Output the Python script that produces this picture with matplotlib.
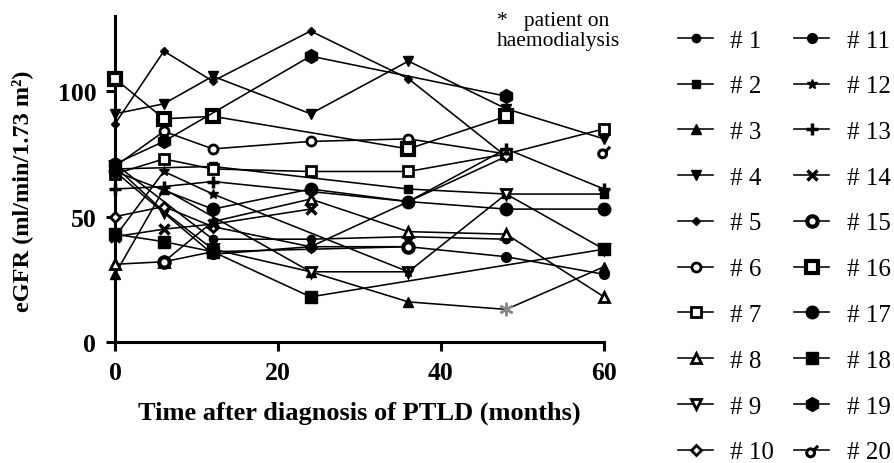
import numpy as np
import matplotlib
matplotlib.use("Agg")
import matplotlib.pyplot as plt
from matplotlib.path import Path

plt.rcParams['font.family'] = ['Liberation Serif', 'DejaVu Serif']

nan = np.nan
months = [0, 6, 12, 24, 36, 48, 60]

# eGFR per patient at each follow-up time (nan = no value)
p1 = [71, nan, 41, 41, 42, 41, nan]
p2 = [69, nan, 70, nan, 61, 59, 59]
p3 = [27, 61, nan, 28, 16, 13, 30]
p4 = [91, 95, 106, 91, 112, 93, 81]
p5 = [87, 116, 104, 124, 105, 74, nan]
p6 = [70, 84, 77, 80, 81, 75, nan]
p7 = [67, 73, 69, 68, 68, 75, 85]
p8 = [31, 32, 48, 57, 44, 43, 18]
p9 = [70, 52, 37, 28, 28, 59, 37]
p10 = [50, 54, 46, 38, nan, 74, nan]
p11 = [68, nan, 35, 38, 38, 34, 27]
p12 = [42, 68, 59, nan, 28, nan, nan]
p13 = [61, 62, 64, 60, 56, 77, 61]
p14 = [42, 45, 47, 53, nan, nan, nan]
p15 = [nan, 32, 36, nan, 38, nan, nan]
p16 = [105, 89, 90, nan, 77, 90, nan]
p17 = [68, nan, 53, 61, 56, 53, 53]
p18 = [43, 40, 36, 18, nan, nan, 37]
p19 = [71, 80, nan, 114, nan, 98, nan]
p20 = [nan, nan, nan, nan, nan, nan, 76]

patients = [p1, p2, p3, p4, p5, p6, p7, p8, p9, p10,
            p11, p12, p13, p14, p15, p16, p17, p18, p19, p20]
labels = ['# %d' % (i + 1) for i in range(20)]
dialysis_idx = 5  # patient 3 at 48 months was on haemodialysis

ring = Path.circle((-0.2, -0.25), 0.42)
tail = Path([(0.15, 0.05), (0.6, 0.5)], [Path.MOVETO, Path.LINETO])
hook = Path.make_compound_path(ring, tail)

# marker, size, face, edge width
styles = [
    ('o', 6, 'k', 1), ('s', 6, 'k', 1), ('^', 6.5, 'k', 1), ('v', 6.5, 'k', 1),
    ('D', 4.5, 'k', 1), ('o', 6.5, 'w', 2), ('s', 6.5, 'w', 2), ('^', 7, 'w', 2),
    ('v', 7, 'w', 2), ('D', 5.5, 'w', 2), ('o', 7, 'k', 1), ('*', 7, 'k', 1),
    ('+', 8, 'k', 2.5), ('x', 7, 'k', 2.5), ('o', 7.5, 'w', 3), ('s', 8, 'w', 3),
    ('o', 9, 'k', 1), ('s', 9, 'k', 1), ('h', 10, 'k', 1), (hook, 9, 'w', 2.2),
]

fig = plt.figure(figsize=(8.94, 4.64), dpi=100)
ax = fig.add_axes([115 / 894, 1 - 343 / 464, 489 / 894, 326 / 464])

handles = []
for i, vals in enumerate(patients):
    t = np.array(months, dtype=float)
    v = np.array(vals, dtype=float)
    ok = ~np.isnan(v)
    mk, ms, mfc, mew = styles[i]
    every = None
    if i == 2:
        every = [k for k, idx in enumerate(np.where(ok)[0]) if idx != dialysis_idx]
    h, = ax.plot(t[ok], v[ok], color='k', lw=1.15, marker=mk, ms=ms,
                 mfc=mfc, mec='k', mew=mew, clip_on=False, markevery=every,
                 label=labels[i], zorder=3)
    handles.append(h)

# haemodialysis mark
ax.plot(months[dialysis_idx], p3[dialysis_idx], marker='$*$', ms=9,
        color='#888888', ls='none', clip_on=False, zorder=4)

ax.set_xlim(0, 60)
ax.set_ylim(0, 130)
ax.set_xticks([0, 20, 40, 60])
ax.set_yticks([0, 50, 100])
for s in ['top', 'right']:
    ax.spines[s].set_visible(False)
for s in ['left', 'bottom']:
    ax.spines[s].set_linewidth(2.2)
ax.tick_params(direction='out', length=6.5, width=2.2, pad=7, labelsize=18.5)
for lab in ax.get_xticklabels() + ax.get_yticklabels():
    lab.set_fontweight('bold')

ax.set_xlabel('Time after diagnosis of PTLD (months)', fontsize=19,
              fontweight='bold', labelpad=12)
ax.set_ylabel('eGFR (ml/min/1.73 m²)', fontsize=17.5, fontweight='bold')
ax.yaxis.set_label_coords(-0.168, 0.465)

fig.text(497 / 894, 1 - 12 / 464, '*   patient on\nhaemodialysis', fontsize=15.5,
         ha='left', va='top', linespacing=1.05)

fig.legend(handles=handles, ncol=2, loc='upper left',
           bbox_to_anchor=(678 / 894, 1 - 30 / 464), frameon=False,
           fontsize=18, numpoints=1, handlelength=1.4, handletextpad=0.7,
           columnspacing=0.8, labelspacing=0.93, borderpad=0, borderaxespad=0)

fig.savefig('out.png', dpi=100)
